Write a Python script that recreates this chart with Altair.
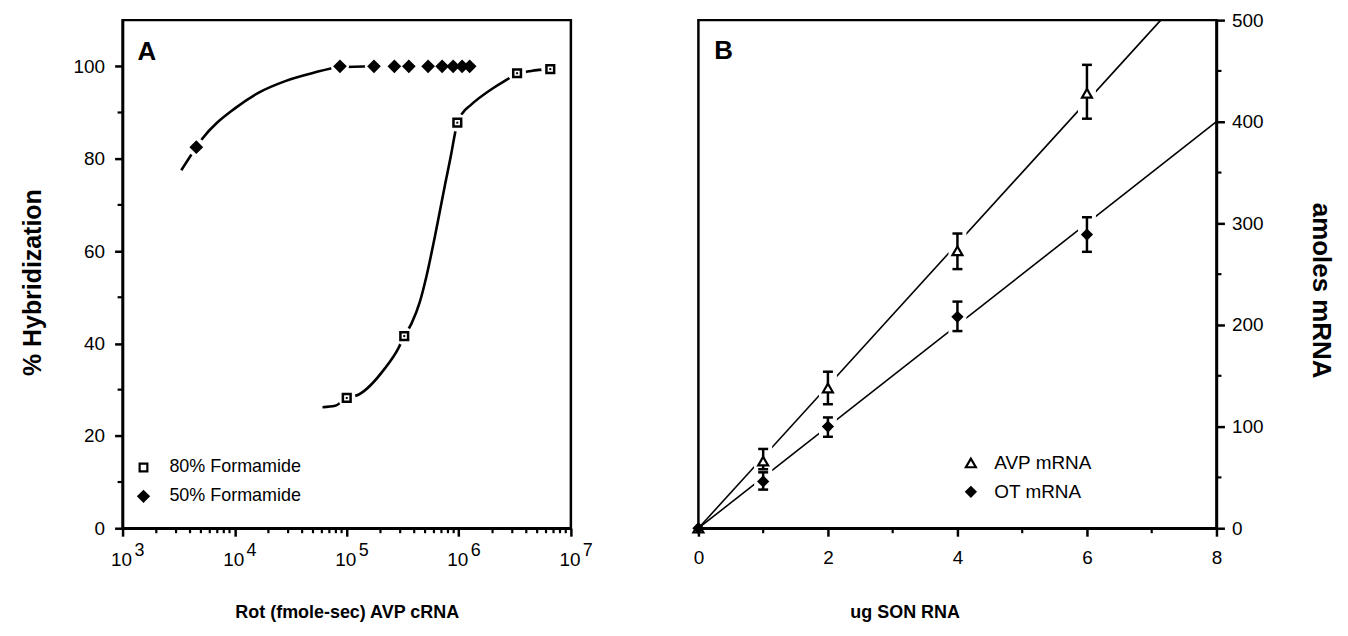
import altair as alt
import pandas as pd

FONT = "Liberation Sans"

# ---------------- Panel A data ----------------
a80_x = [1.0e5, 3.26e5, 9.7e5, 3.31e6, 6.55e6]
a80_y = [28.2, 41.6, 87.8, 98.5, 99.4]
a50_x = [4.55e3, 8.7e4, 1.75e5, 2.66e5, 3.58e5, 5.32e5, 7.1e5, 8.9e5, 1.07e6, 1.25e6]
a50_y = [82.5, 100, 100, 100, 100, 100, 100, 100, 100, 100]

c80_x = [6.08e4, 7.87e4, 1.0e5, 1.27e5, 2.19e5, 2.88e5, 3.26e5, 3.78e5, 4.49e5, 5.14e5,
         6.10e5, 7.48e5, 8.57e5, 9.18e5, 9.7e5, 1.09e6, 1.26e6, 2.0e6, 2.51e6, 3.31e6,
         4.41e6, 6.55e6]
c80_y = [26.2, 26.5, 28.2, 28.9, 34.6, 38.9, 41.6, 44.3, 49.0, 54.5,
         63.0, 74.0, 81.1, 85.1, 87.8, 90.0, 91.5, 95.2, 96.7, 98.3,
         99.0, 99.4]
c50_x = [3.34e3, 4.55e3, 5.14e3, 1.02e4, 1.64e4, 2.83e4, 4.89e4, 8.7e4, 1.75e5]
c50_y = [77.5, 82.5, 84.3, 91.0, 94.3, 96.8, 98.5, 99.8, 100]

a_series = ["80% Formamide", "50% Formamide"]
a_decades = [1e3, 1e4, 1e5, 1e6, 1e7]
a_exps = ["3", "4", "5", "6", "7"]
a_yticks = [0, 20, 40, 60, 80, 100]
a_yminor = [10, 30, 50, 70, 90]
a_xminor = [m * d for d in [1e3, 1e4, 1e5, 1e6] for m in range(2, 10)]

# ---------------- Panel B data ----------------
b_series = ["AVP mRNA", "OT mRNA"]
avp_x = [0, 1, 2, 4, 6]
avp_y = [0, 66, 138, 273, 428]
avp_lo = [0, 58, 122, 255, 403]
avp_hi = [0, 78, 154, 290, 456]
ot_x = [0, 1, 2, 4, 6]
ot_y = [0, 46, 100, 208, 289]
ot_lo = [0, 38, 90, 194, 272]
ot_hi = [0, 55, 109, 223, 306]
avp_fit_x = [0, 7.14]
avp_fit_y = [0, 500]
ot_fit_x = [0, 8]
ot_fit_y = [0, 400]
b_xticks = [0, 2, 4, 6, 8]
b_xminor = [1, 3, 5, 7]
b_yticks = [0, 100, 200, 300, 400, 500]
b_yminor = [50, 150, 250, 350, 450]

W_A, W_B, H = 450, 520, 510

# ---------------- Panel A ----------------
curveA = pd.concat([
    pd.DataFrame({"x": c80_x, "y": c80_y, "s": a_series[0]}),
    pd.DataFrame({"x": c50_x, "y": c50_y, "s": a_series[1]}),
])
ptsA = pd.concat([
    pd.DataFrame({"x": a80_x, "y": a80_y, "s": a_series[0]}),
    pd.DataFrame({"x": a50_x, "y": a50_y, "s": a_series[1]}),
])
p80 = pd.DataFrame({"x": a80_x, "y": a80_y})

xscaleA = alt.Scale(type="log", domain=[1e3, 1e7], nice=False)
yscaleA = alt.Scale(domain=[0, 110], nice=False)
axA_x = alt.Axis(values=a_decades, labels=False, tickSize=8,
                 title="Rot (fmole-sec) AVP cRNA", titleX=225, titleY=90,
                 titleBaseline="alphabetic", titleFontSize=18)
axA_y = alt.Axis(values=a_yticks, tickSize=8, labelPadding=10,
                 title="% Hybridization", titleX=-77, titleY=263,
                 titleBaseline="bottom", titleFontSize=25)


def XA(f):
    return alt.X(f, scale=xscaleA, axis=axA_x)


def YA(f):
    return alt.Y(f, scale=yscaleA, axis=axA_y)


lineA = alt.Chart(curveA).mark_line(interpolate="monotone", color="black", strokeWidth=2.6).encode(
    x=XA("x:Q"), y=YA("y:Q"), detail="s:N",
)
haloA = alt.Chart(ptsA).mark_circle(color="white", opacity=1, size=330).encode(
    x=XA("x:Q"), y=YA("y:Q"),
)
legA = alt.Legend(title=None, orient="none", legendX=12, legendY=440, padding=0,
                  labelFontSize=18, labelOffset=17, rowPadding=10,
                  symbolStrokeWidth=2.2)
markA = alt.Chart(ptsA).mark_point(filled=True, strokeWidth=2.5, opacity=1).encode(
    x=XA("x:Q"), y=YA("y:Q"),
    shape=alt.Shape("s:N", scale=alt.Scale(domain=a_series, range=["square", "diamond"]), legend=legA),
    fill=alt.Fill("s:N", scale=alt.Scale(domain=a_series, range=["white", "black"]), legend=legA),
    stroke=alt.Stroke("s:N", scale=alt.Scale(domain=a_series, range=["black", "black"]), legend=legA),
    size=alt.Size("s:N", scale=alt.Scale(domain=a_series, range=[60, 105]), legend=legA),
)
dotA = alt.Chart(p80).mark_square(color="black", size=4, opacity=1).encode(
    x=XA("x:Q"), y=YA("y:Q"),
)
xminA = alt.Chart(pd.DataFrame({"x": a_xminor})).mark_rule(color="black", strokeWidth=2.2).encode(
    x=XA("x:Q"), y=alt.value(H), y2=alt.value(H + 5),
)
yminA = alt.Chart(pd.DataFrame({"y": a_yminor})).mark_rule(color="black", strokeWidth=2.2).encode(
    y=YA("y:Q"), x=alt.value(0), x2=alt.value(-5),
)
decA = pd.DataFrame({"x": a_decades, "e": a_exps, "y": [0] * 5})
baseA = alt.Chart(decA).mark_text(text="10", font=FONT, fontSize=19, color="black", dx=-1, dy=32).encode(
    x=XA("x:Q"), y=YA("y:Q"),
)
expA = alt.Chart(decA).mark_text(font=FONT, fontSize=18, color="black", dx=17, dy=23).encode(
    x=XA("x:Q"), y=YA("y:Q"), text="e:N",
)
letterA = alt.Chart(pd.DataFrame({"l": ["A"]})).mark_text(
    font=FONT, fontSize=26, fontWeight="bold", color="black", align="left", baseline="alphabetic"
).encode(x=alt.value(15), y=alt.value(40), text="l:N")

panelA = alt.layer(lineA, haloA, markA, dotA, xminA, yminA, baseA, expA, letterA).properties(
    width=W_A, height=H)

# ---------------- Panel B ----------------
ptsB = pd.concat([
    pd.DataFrame({"x": avp_x, "y": avp_y, "lo": avp_lo, "hi": avp_hi, "s": b_series[0]}),
    pd.DataFrame({"x": ot_x, "y": ot_y, "lo": ot_lo, "hi": ot_hi, "s": b_series[1]}),
])
errB = ptsB[ptsB["x"] > 0]
fitB = pd.concat([
    pd.DataFrame({"x": avp_fit_x, "y": avp_fit_y, "s": b_series[0]}),
    pd.DataFrame({"x": ot_fit_x, "y": ot_fit_y, "s": b_series[1]}),
])
xscaleB = alt.Scale(domain=[0, 8], nice=False)
yscaleB = alt.Scale(domain=[0, 500], nice=False)
axB_x = alt.Axis(values=b_xticks, tickSize=8, labelPadding=12, labelFlush=False,
                 title="ug SON RNA", titleX=207, titleY=90,
                 titleBaseline="alphabetic", titleFontSize=18)
axB_y = alt.Axis(orient="right", values=b_yticks, tickSize=8, labelPadding=7,
                 title="amoles mRNA", titleX=91, titleY=271, titleAngle=90,
                 titleBaseline="bottom", titleFontSize=26)


def XB(f):
    return alt.X(f, scale=xscaleB, axis=axB_x)


def YB(f):
    return alt.Y(f, scale=yscaleB, axis=axB_y)


lineB = alt.Chart(fitB).mark_line(color="black", strokeWidth=1.6).encode(
    x=XB("x:Q"), y=YB("y:Q"), detail="s:N",
)
haloB = alt.Chart(errB).mark_rule(color="white", strokeWidth=18, strokeCap="square").encode(
    x=XB("x:Q"), y=YB("lo:Q"), y2="hi:Q",
)
barB = alt.Chart(errB).mark_rule(color="black", strokeWidth=2.5).encode(
    x=XB("x:Q"), y=YB("lo:Q"), y2="hi:Q",
)
capLoB = alt.Chart(errB).mark_tick(orient="horizontal", color="black", size=10, thickness=2.5, opacity=1).encode(
    x=XB("x:Q"), y=YB("lo:Q"),
)
capHiB = alt.Chart(errB).mark_tick(orient="horizontal", color="black", size=10, thickness=2.5, opacity=1).encode(
    x=XB("x:Q"), y=YB("hi:Q"),
)
legB = alt.Legend(title=None, orient="none", legendX=264, legendY=435, padding=0,
                  labelFontSize=19, labelOffset=14, rowPadding=9,
                  symbolStrokeWidth=2.2)
markB = alt.Chart(ptsB).mark_point(filled=True, strokeWidth=2.2, opacity=1).encode(
    x=XB("x:Q"), y=YB("y:Q"),
    shape=alt.Shape("s:N", scale=alt.Scale(domain=b_series, range=["triangle-up", "diamond"]), legend=legB),
    fill=alt.Fill("s:N", scale=alt.Scale(domain=b_series, range=["white", "black"]), legend=legB),
    stroke=alt.Stroke("s:N", scale=alt.Scale(domain=b_series, range=["black", "black"]), legend=legB),
    size=alt.Size("s:N", scale=alt.Scale(domain=b_series, range=[100, 85]), legend=legB),
)
xminB = alt.Chart(pd.DataFrame({"x": b_xminor})).mark_rule(color="black", strokeWidth=2.2).encode(
    x=XB("x:Q"), y=alt.value(H), y2=alt.value(H + 5),
)
yminB = alt.Chart(pd.DataFrame({"y": b_yminor})).mark_rule(color="black", strokeWidth=2.2).encode(
    y=YB("y:Q"), x=alt.value(W_B), x2=alt.value(W_B + 5),
)
letterB = alt.Chart(pd.DataFrame({"l": ["B"]})).mark_text(
    font=FONT, fontSize=26, fontWeight="bold", color="black", align="left", baseline="alphabetic"
).encode(x=alt.value(16), y=alt.value(39), text="l:N")

panelB = alt.layer(lineB, haloB, barB, capLoB, capHiB, markB, xminB, yminB, letterB).properties(
    width=W_B, height=H)

chart = alt.hconcat(panelA, panelB, spacing=128, bounds="flush").resolve_scale(
    x="independent", y="independent", shape="independent", fill="independent",
    stroke="independent", size="independent"
).resolve_legend(shape="independent", fill="independent", stroke="independent",
                 size="independent").properties(
    padding={"left": 11, "top": 0, "right": 5, "bottom": 5}
).configure_view(
    stroke="black", strokeWidth=2.5
).configure_axis(
    domainColor="black", domainWidth=2.5, tickColor="black", tickWidth=2.5,
    labelColor="black", labelFont=FONT, labelFontSize=19, titleFont=FONT,
    titleFontWeight="bold", titleColor="black", grid=False, labelFlush=False
).configure_legend(
    labelFont=FONT, labelColor="black"
)

chart.save("out.html", embed_options={"renderer": "svg", "actions": False})
